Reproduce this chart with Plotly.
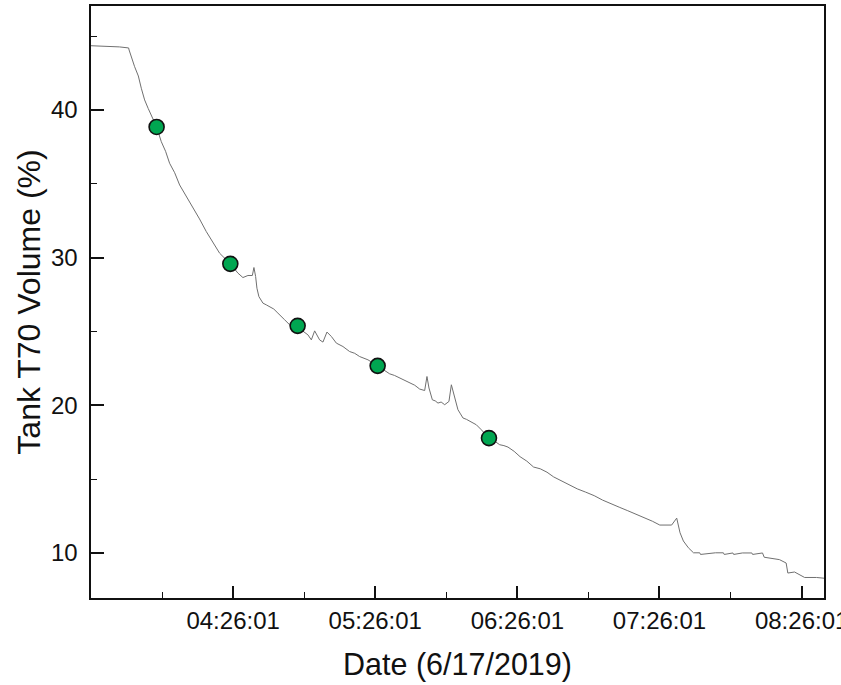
import plotly.graph_objects as go

DATE = "2019-06-17 "

# Tank T70 volume trace (time of day, % volume)
line_times = [
    "03:26:01", "03:30:10", "03:33:52", "03:38:00", "03:41:54", "03:42:06", "03:44:26", "03:46:00",
    "03:47:15", "03:48:39", "03:50:10", "03:51:29", "03:53:43", "03:55:42", "03:57:30",
    "03:59:12", "04:01:20", "04:03:26", "04:06:10", "04:09:03", "04:11:50", "04:14:42",
    "04:17:30", "04:20:19", "04:24:50", "04:28:03", "04:30:09", "04:32:16", "04:34:08",
    "04:34:48", "04:35:31", "04:36:04", "04:36:54", "04:38:36", "04:40:02", "04:41:26",
    "04:43:10", "04:44:56", "04:46:20", "04:47:46", "04:49:53", "04:53:15", "04:55:30",
    "04:57:36", "04:59:02", "05:00:26", "05:02:32", "05:03:56", "05:05:38", "05:07:29",
    "05:09:36", "05:11:00", "05:12:23", "05:15:12", "05:17:20", "05:19:26", "05:22:56",
    "05:27:02", "05:29:40", "05:32:06", "05:34:10", "05:36:20", "05:38:30", "05:40:33",
    "05:42:40", "05:44:46", "05:46:53", "05:47:51", "05:48:42", "05:50:08", "05:51:20",
    "05:52:30", "05:53:50", "05:55:20", "05:57:08", "05:58:09", "05:59:08", "06:00:56",
    "06:02:00", "06:03:03", "06:04:30", "06:05:53", "06:07:20", "06:08:42", "06:10:49",
    "06:14:02", "06:16:20", "06:18:33", "06:20:20", "06:22:03", "06:24:40", "06:27:09",
    "06:30:00", "06:32:51", "06:35:40", "06:38:31", "06:41:20", "06:44:13", "06:47:50",
    "06:51:18", "06:54:50", "06:58:27", "07:02:00", "07:05:32", "07:09:00", "07:12:38",
    "07:16:10", "07:19:46", "07:23:00", "07:26:09", "07:31:08", "07:33:17", "07:34:41",
    "07:36:06", "07:38:13", "07:40:23", "07:43:00", "07:43:20", "07:49:38", "07:53:00",
    "07:53:20", "07:57:00", "07:57:20", "08:01:00", "08:05:00", "08:05:20", "08:09:30",
    "08:10:14", "08:16:39", "08:19:29", "08:20:12", "08:23:02", "08:27:17", "08:32:17",
    "08:35:28",
]
line_values = [
    44.35, 44.33, 44.30, 44.27, 44.20, 44.06, 42.93, 42.30,
    41.47, 40.68, 40.10, 39.66, 38.85, 37.85, 37.20,
    36.39, 35.75, 34.92, 34.20, 33.35, 32.62, 31.76,
    31.05, 30.30, 29.58, 28.95, 28.65, 28.79, 28.79,
    29.33, 28.72, 27.93, 27.36, 26.92, 26.80, 26.69,
    26.52, 26.24, 26.05, 25.79, 25.45, 25.38, 25.02,
    24.77, 24.43, 25.04, 24.43, 24.28, 24.96, 24.66,
    24.21, 24.12, 23.98, 23.64, 23.52, 23.30, 23.08,
    22.67, 22.42, 22.13, 22.02, 21.84, 21.70, 21.50,
    21.36, 21.10, 21.00, 21.95, 21.17, 20.37, 20.30,
    20.15, 20.22, 20.04, 20.26, 21.39, 20.83, 19.70,
    19.42, 19.14, 19.05, 18.91, 18.80, 18.68, 18.34,
    17.78, 17.58, 17.33, 17.27, 17.17, 16.88, 16.52,
    16.22, 15.82, 15.70, 15.47, 15.15, 14.91, 14.62,
    14.34, 14.12, 13.88, 13.58, 13.31, 13.10, 12.86,
    12.62, 12.40, 12.15, 11.89, 11.89, 12.36, 11.37,
    10.81, 10.35, 10.01, 10.01, 9.90, 10.01, 10.01,
    9.90, 10.00, 9.90, 10.00, 10.00, 9.90, 10.00,
    9.71, 9.55, 9.32, 8.64, 8.71, 8.34, 8.34,
    8.29,
]

# Highlighted sample points
marker_times = ["03:53:43", "04:24:50", "04:53:15", "05:27:02", "06:14:02"]
marker_values = [38.85, 29.58, 25.38, 22.67, 17.78]

x_tick_times = ["04:26:01", "05:26:01", "06:26:01", "07:26:01", "08:26:01"]
y_tick_values = [10, 20, 30, 40]
y_minor_values = [15, 25, 35, 45]

x_title = "Date (6/17/2019)"
y_title = "Tank T70 Volume (%)"

FONT = "Liberation Sans, Arial, sans-serif"
Y_RANGE = [6.95, 47.04]
INK = "#111111"

fig = go.Figure()
fig.add_trace(go.Scatter(
    x=[DATE + t for t in line_times], y=line_values,
    mode="lines", line=dict(color="#707070", width=1),
    showlegend=False, hoverinfo="skip",
))
fig.add_trace(go.Scatter(
    x=[DATE + t for t in marker_times], y=marker_values,
    mode="markers",
    marker=dict(size=15, color="#00A651", line=dict(color=INK, width=1.6)),
    showlegend=False,
))
# empty traces so the overlay axes carrying the y tick marks are drawn
fig.add_trace(go.Scatter(x=[], y=[], yaxis="y2", showlegend=False, hoverinfo="skip"))
fig.add_trace(go.Scatter(x=[], y=[], yaxis="y3", showlegend=False, hoverinfo="skip"))

fig.update_layout(
    width=841, height=685,
    margin=dict(l=91, r=17, t=6, b=87),
    paper_bgcolor="white", plot_bgcolor="white",
    font=dict(family=FONT, color=INK),
    yaxis=dict(
        automargin=False, range=Y_RANGE,
        tickmode="array", tickvals=y_tick_values,
        ticktext=[str(v) + " " for v in y_tick_values],
        ticks="",
        tickfont=dict(size=24, family=FONT, color=INK),
        showline=True, linecolor=INK, linewidth=1.8, mirror=True,
        showgrid=False, zeroline=False,
        title=dict(text=y_title, font=dict(size=32, family=FONT, color=INK), standoff=1),
    ),
    yaxis2=dict(
        overlaying="y", side="left", range=Y_RANGE, automargin=False,
        tickmode="array", tickvals=y_minor_values, showticklabels=False,
        ticks="inside", ticklen=6, tickwidth=1.2, tickcolor=INK,
        showline=False, showgrid=False, zeroline=False,
    ),
    yaxis3=dict(
        overlaying="y", side="left", range=Y_RANGE, automargin=False,
        tickmode="array", tickvals=y_tick_values, showticklabels=False,
        ticks="inside", ticklen=13, tickwidth=1.6, tickcolor=INK,
        showline=False, showgrid=False, zeroline=False,
    ),
)
fig.update_xaxes(
    type="date", automargin=False,
    range=[DATE + "03:26:01", DATE + "08:35:28"],
    tickmode="array",
    tickvals=[DATE + t for t in x_tick_times],
    ticktext=x_tick_times,
    ticklabeloverflow="allow",
    ticks="inside", ticklen=12, tickwidth=1.5, tickcolor=INK,
    minor=dict(ticks="inside", ticklen=6, tickwidth=1.2, tickcolor=INK,
               dtick=1800000, tick0=DATE + "03:56:01"),
    tickfont=dict(size=24, family=FONT, color=INK),
    showline=True, linecolor=INK, linewidth=1.8, mirror=True,
    showgrid=False, zeroline=False,
    title=dict(text=x_title, font=dict(size=30.5, family=FONT, color=INK), standoff=21),
)

fig.write_html(
    "out.html",
    config={"displayModeBar": False},
    post_script="document.body.style.margin='0';document.body.style.overflow='hidden';",
)
